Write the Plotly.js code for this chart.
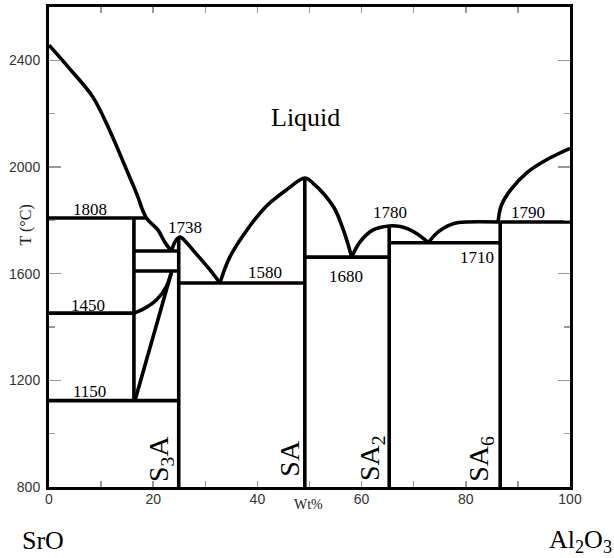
<!DOCTYPE html>
<html><head><meta charset="utf-8">
<script src="https://cdn.plot.ly/plotly-3.0.1.min.js"></script>
<style>html,body{margin:0;padding:0;background:#fff}#chart{width:614px;height:558px}</style>
</head><body><div id="chart"></div>
<script>
// ---- Liquidus curves (wt% Al2O3, T in °C) ----
const liqSrO_x = [0, 3.9, 8.4, 11.6, 14.9, 16.8, 18.7, 20.9, 22.2, 23.5];
const liqSrO_T = [2457, 2370, 2263, 2139, 1989, 1901, 1809, 1764, 1719, 1685];
const liqS3A_x = [23.5, 24.0, 24.6, 25.2, 26.5, 28.0, 30.9, 32.8];
const liqS3A_T = [1685, 1712, 1731, 1737, 1714, 1680, 1614, 1565];
const liqSA_x = [32.8, 34.7, 38.0, 41.8, 45.7, 49.1, 50.7, 54.6, 56.5, 58.1];
const liqSA_T = [1565, 1662, 1764, 1855, 1916, 1959, 1939, 1851, 1764, 1662];
const liqSA2_x = [58.1, 59.7, 62.2, 65.3, 67.4, 68.9, 71.0, 72.8];
const liqSA2_T = [1662, 1719, 1764, 1779, 1777, 1768, 1745, 1716];
const liqSA6_x = [72.8, 74.2, 75.7, 77.0, 78.6, 86.4];
const liqSA6_T = [1716, 1748, 1770, 1783, 1792, 1794];
const liqAl_x = [86.2, 86.8, 88.6, 91.8, 95.6, 100];
const liqAl_T = [1794, 1855, 1914, 1980, 2028, 2070];
// ---- S3A solid-solution boundaries ----
const ssUpper_x = [16.3, 18.0, 20.6, 22.5, 23.5];
const ssUpper_T = [1452, 1466, 1501, 1551, 1605];
const ssLower_x = [16.5, 23.5];
const ssLower_T = [1124, 1605];
// ---- Isotherms ----
const isoT  = [1809, 1685, 1610, 1452, 1124, 1565, 1662, 1716, 1794];
const isoX0 = [0, 16.3, 16.3, 0, 0, 24.9, 49.1, 65.3, 86.6];
const isoX1 = [18.7, 24.9, 24.9, 16.3, 24.9, 49.1, 65.3, 86.6, 100];
// ---- Compounds (vertical lines) ----
const compoundNames = ['S<sub>3</sub>A', 'SA', 'SA<sub>2</sub>', 'SA<sub>6</sub>'];
const compoundX   = [24.9, 49.1, 65.3, 86.6];
const compoundTop = [1734, 1959, 1779, 1794];
const innerX = 16.3, innerTop = 1809, innerBottom = 1124;
// ---- Invariant temperature labels ----
const invLabels = ['1808', '1738', '1450', '1150', '1580', '1680', '1780', '1710', '1790'];
const invLabelX = [7.8, 26.1, 7.4, 7.8, 41.4, 57.0, 65.5, 82.2, 92.0];
const invLabelT = [1839, 1775, 1482, 1160, 1606, 1591, 1831, 1662, 1831];
// ---- Axes ----
const xRange = [0, 100];
const yRange = [800, 2600];

const LW = 3.6;
function curve(xs, ts, shape) {
  return {x: xs, y: ts, type: 'scatter', mode: 'lines',
    line: {color: '#000', width: LW, shape: shape || 'spline', smoothing: 1},
    hoverinfo: 'skip', showlegend: false};
}
const lx = [], ly = [];
isoT.forEach((t, i) => { lx.push(isoX0[i], isoX1[i], null); ly.push(t, t, null); });
compoundX.forEach((x, i) => { lx.push(x, x, null); ly.push(compoundTop[i], yRange[0], null); });
lx.push(innerX, innerX, null); ly.push(innerTop, innerBottom, null);

const traces = [
  curve(liqSrO_x, liqSrO_T), curve(liqS3A_x, liqS3A_T), curve(liqSA_x, liqSA_T),
  curve(liqSA2_x, liqSA2_T), curve(liqSA6_x, liqSA6_T), curve(liqAl_x, liqAl_T),
  curve(ssUpper_x, ssUpper_T), curve(ssLower_x, ssLower_T, 'linear'),
  curve(lx, ly, 'linear')
];

const serif = 'Liberation Serif, Times New Roman, serif';
const ann = [];
function addAnn(o) { ann.push(Object.assign({showarrow: false, xanchor: 'center', yanchor: 'middle'}, o)); }
invLabels.forEach((t, i) => addAnn({x: invLabelX[i], y: invLabelT[i], xref: 'x', yref: 'y', text: t,
  font: {family: serif, size: 17, color: '#000'}}));
const compLabelX = [21.4, 46.1, 61.9, 82.8];
compoundNames.forEach((n, i) => addAnn({x: compLabelX[i], y: 907, xref: 'x', yref: 'y', text: n,
  textangle: -90, font: {family: serif, size: 28, color: '#000'}}));
addAnn({x: 49.2, y: 2184, xref: 'x', yref: 'y', text: 'Liquid', font: {family: serif, size: 26, color: '#000'}});
addAnn({x: -0.045, y: 0.546, xref: 'paper', yref: 'paper', text: 'T (°C)', textangle: -90,
  font: {family: serif, size: 16, color: '#222'}});
addAnn({x: 0.4985, y: -0.037, xref: 'paper', yref: 'paper', text: 'Wt%', font: {family: serif, size: 14, color: '#222'}});
addAnn({x: -0.0106, y: -0.112, xref: 'paper', yref: 'paper', text: 'SrO', font: {family: serif, size: 26, color: '#000'}});
addAnn({x: 1.02, y: -0.112, xref: 'paper', yref: 'paper', text: 'Al<sub>2</sub>O<sub>3</sub>',
  font: {family: serif, size: 26, color: '#000'}});

const tickFont = {family: 'Liberation Sans Narrow, Arial Narrow, Liberation Sans, sans-serif', size: 14, color: '#333'};
const layout = {
  width: 614, height: 558,
  margin: {l: 49, r: 44, t: 7, b: 71, pad: 0},
  paper_bgcolor: '#fff', plot_bgcolor: '#fff',
  showlegend: false,
  xaxis: {range: xRange, tick0: 0, dtick: 20, ticks: 'inside', ticklen: 6, tickwidth: 1.5, tickcolor: '#999',
    minor: {dtick: 10, ticks: 'inside', ticklen: 6, tickwidth: 1.5, tickcolor: '#999'},
    showline: true, linecolor: '#000', linewidth: 3, mirror: 'ticks', showgrid: false, zeroline: false,
    tickfont: tickFont, fixedrange: true, ticklabelstandoff: -3},
  yaxis: {range: yRange, tick0: 800, dtick: 400, ticks: 'inside', ticklen: 12, tickwidth: 1.5, tickcolor: '#999',
    minor: {dtick: 200, ticks: 'inside', ticklen: 6, tickwidth: 1.5, tickcolor: '#999'},
    showline: true, linecolor: '#000', linewidth: 3, mirror: 'ticks', showgrid: false, zeroline: false,
    tickfont: tickFont, fixedrange: true, ticklabelstandoff: 3},
  annotations: ann
};
Plotly.newPlot('chart', traces, layout, {staticPlot: true, displayModeBar: false});
</script></body></html>
